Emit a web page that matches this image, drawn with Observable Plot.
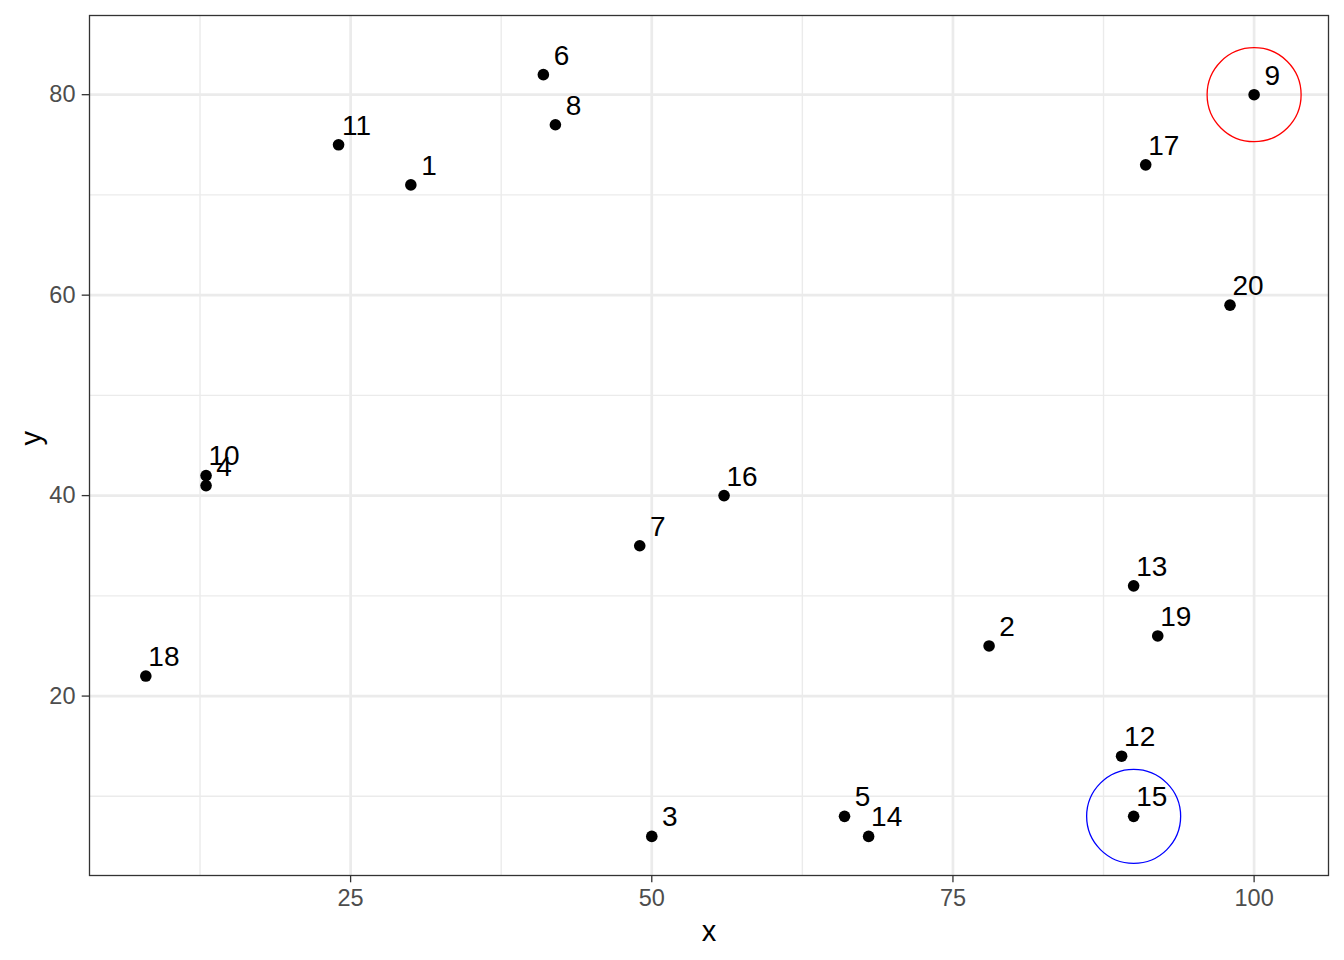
<!DOCTYPE html>
<html>
<head>
<meta charset="utf-8">
<script src="https://cdn.jsdelivr.net/npm/d3@7"></script>
<script src="https://cdn.jsdelivr.net/npm/@observablehq/plot@0.6"></script>
<style>
  html, body { margin: 0; padding: 0; background: #fff; }
  #chart { width: 1344px; height: 960px; }
</style>
</head>
<body>
<div id="chart"></div>
<script>
// Point data
const ids = [1, 2, 3, 4, 5, 6, 7, 8, 9, 10, 11, 12, 13, 14, 15, 16, 17, 18, 19, 20];
const xs  = [30, 78, 50, 13, 66, 41, 49, 42, 100, 13, 24, 89, 90, 68, 90, 56, 91, 8, 92, 98];
const ys  = [71, 25, 6, 41, 8, 82, 35, 77, 80, 42, 75, 14, 31, 6, 8, 40, 73, 22, 26, 59];

// Highlighted points (circled)
const highlightIds = [9, 15];
const highlightColors = ["red", "blue"];

// Label nudges (data units)
const nudgeX = 1.5;
const nudgeY = 2;

// Axis ticks
const xTicks = [25, 50, 75, 100];
const xMinor = [12.5, 37.5, 62.5, 87.5];
const yTicks = [20, 40, 60, 80];
const yMinor = [10, 30, 50, 70];

const points = ids.map((id, i) => ({id, x: xs[i], y: ys[i]}));
const highlights = highlightIds.map((id, i) => {
  const p = points.find(d => d.id === id);
  return {x: p.x, y: p.y, color: highlightColors[i]};
});

// ggplot-like expansion (5%) over points and nudged labels
function expand(vals) {
  const lo = d3.min(vals), hi = d3.max(vals), pad = (hi - lo) * 0.05;
  return [lo - pad, hi + pad];
}
const xDomain = expand([...xs, ...xs.map(v => v + nudgeX)]);
const yDomain = expand([...ys, ...ys.map(v => v + nudgeY)]);

const font = "Liberation Sans, Arial, Helvetica, sans-serif";

const chart = Plot.plot({
  width: 1344,
  height: 960,
  marginLeft: 89,
  marginRight: 16,
  marginTop: 15,
  marginBottom: 85,
  style: {fontFamily: font, background: "#fff", overflow: "visible"},
  x: {domain: xDomain},
  y: {domain: yDomain},
  marks: [
    Plot.gridX(xMinor, {stroke: "#EBEBEB", strokeOpacity: 1, strokeWidth: 1.4}),
    Plot.gridY(yMinor, {stroke: "#EBEBEB", strokeOpacity: 1, strokeWidth: 1.4}),
    Plot.gridX(xTicks, {stroke: "#EBEBEB", strokeOpacity: 1, strokeWidth: 2.7}),
    Plot.gridY(yTicks, {stroke: "#EBEBEB", strokeOpacity: 1, strokeWidth: 2.7}),
    Plot.dot(points, {x: "x", y: "y", r: 5.8, fill: "black", stroke: "none"}),
    Plot.text(points, {
      x: d => d.x + nudgeX, y: d => d.y + nudgeY, text: d => String(d.id),
      fontSize: 28, fill: "black", textAnchor: "middle", lineAnchor: "middle", dy: 1
    }),
    Plot.dot(highlights, {x: "x", y: "y", r: 47, fill: "none", stroke: d => d.color, strokeWidth: 1.3}),
    Plot.frame({stroke: "#333333", strokeWidth: 1.3}),
    // ticks
    Plot.axisX(xTicks, {tickSize: 7.3, tickFormat: () => "", stroke: "#333333", strokeWidth: 1.3, label: null}),
    Plot.axisY(yTicks, {tickSize: 7.3, tickFormat: () => "", stroke: "#333333", strokeWidth: 1.3, label: null}),
    // tick labels
    Plot.axisX(xTicks, {tickSize: 0, tickPadding: 14, fill: "#4D4D4D", color: "#4D4D4D", fontSize: 23.5, label: null}),
    Plot.axisY(yTicks, {tickSize: 0, tickPadding: 14, fill: "#4D4D4D", color: "#4D4D4D", fontSize: 23.5, label: null}),
    // axis titles
    Plot.text(["x"], {frameAnchor: "bottom", dy: 56, fontSize: 29, fill: "black", lineAnchor: "middle"}),
    Plot.text(["y"], {frameAnchor: "left", dx: -58, rotate: -90, fontSize: 29, fill: "black", lineAnchor: "middle"})
  ]
});
document.getElementById("chart").appendChild(chart);
</script>
</body>
</html>
